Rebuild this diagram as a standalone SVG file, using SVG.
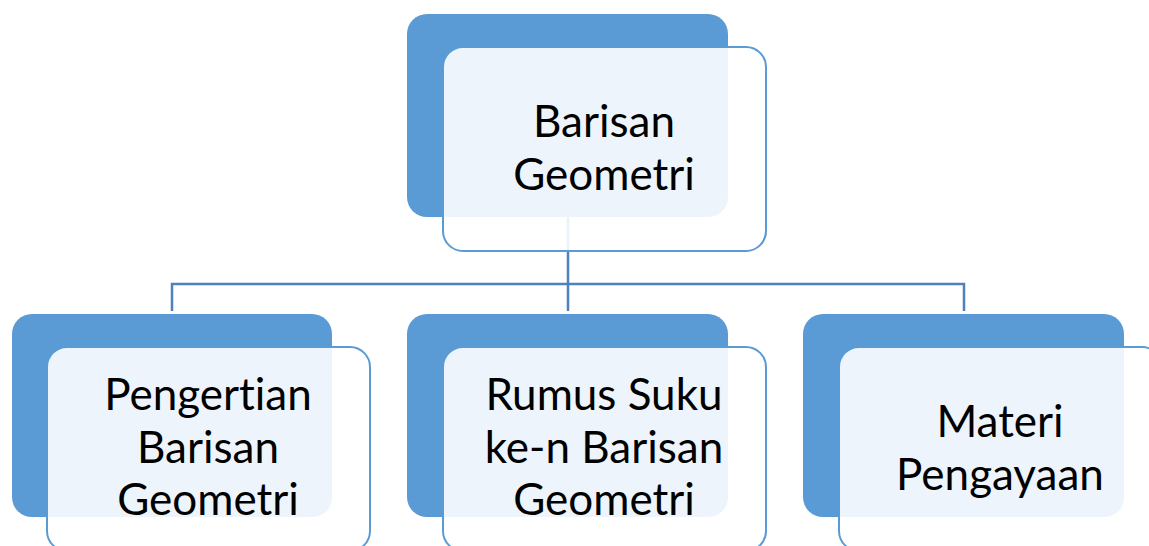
<svg xmlns="http://www.w3.org/2000/svg" width="1149" height="546" viewBox="0 0 1149 546">
<style>
.back{fill:#5B9BD5}
.front{fill:#ffffff;fill-opacity:0.89;stroke:#5B9BD5;stroke-width:2}
.lbl{font-family:Lato,"Liberation Sans",sans-serif;font-size:44px;fill:#000;text-anchor:middle;font-variant-ligatures:none}
.conn{fill:none;stroke:#4F81BD;stroke-width:2.5}
</style>
<rect width="1149" height="546" fill="#ffffff"/>
<g id="connectors">
<path class="conn" d="M568 217 V311"/>
<path class="conn" d="M172 311 V284 H964 V311"/>
</g>
<g id="node-top">
<rect class="back" x="407" y="14" width="321" height="203" rx="20"/>
<rect class="front" x="443" y="47" width="323" height="204" rx="20"/>
<text class="lbl" x="604" y="137">Barisan</text>
<text class="lbl" x="604" y="190">Geometri</text>
</g>
<g id="node-pengertian">
<rect class="back" x="12" y="314" width="320" height="203" rx="20"/>
<rect class="front" x="47" y="347" width="323" height="204" rx="20"/>
<text class="lbl" x="208" y="410">Pengertian</text>
<text class="lbl" x="208" y="463">Barisan</text>
<text class="lbl" x="208" y="515">Geometri</text>
</g>
<g id="node-rumus">
<rect class="back" x="407" y="314" width="321" height="203" rx="20"/>
<rect class="front" x="443" y="347" width="323" height="204" rx="20"/>
<text class="lbl" x="604" y="410">Rumus Suku</text>
<text class="lbl" x="604" y="463">ke-n Barisan</text>
<text class="lbl" x="604" y="515">Geometri</text>
</g>
<g id="node-materi">
<rect class="back" x="803" y="314" width="321" height="203" rx="20"/>
<rect class="front" x="839" y="347" width="323" height="204" rx="20"/>
<text class="lbl" x="1000" y="437">Materi</text>
<text class="lbl" x="1000" y="490">Pengayaan</text>
</g>
</svg>
